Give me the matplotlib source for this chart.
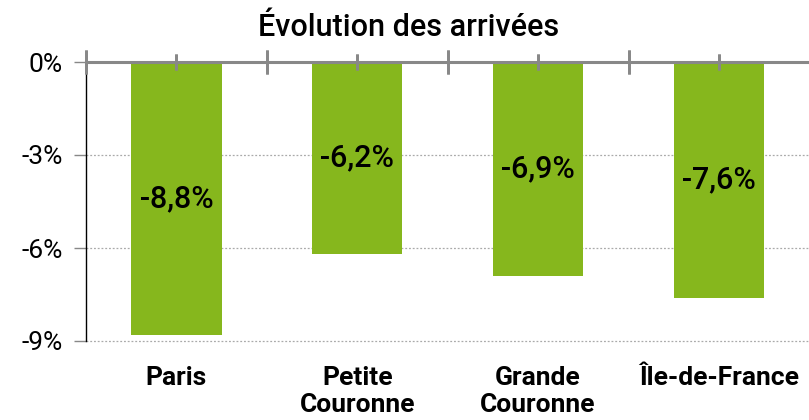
import numpy as np
import matplotlib.pyplot as plt

categories = ["Paris", "Petite\nCouronne", "Grande\nCouronne", "Île-de-France"]
values = [-8.8, -6.2, -6.9, -7.6]
bar_labels = ["-8,8%", "-6,2%", "-6,9%", "-7,6%"]
yticks = [0, -3, -6, -9]
ytick_labels = ["0%", "-3%", "-6%", "-9%"]

plt.rcParams['font.family'] = ['Roboto', 'DejaVu Sans']

fig = plt.figure(figsize=(8.09, 4.2), dpi=100)
ax = fig.add_axes([86/809, (420-341)/420, (813-86)/809, (341-62)/420])

x = np.arange(len(categories))
ax.bar(x, values, width=0.5, color="#86b71d", zorder=2)

for xi, v, lab in zip(x, values, bar_labels):
    ax.text(xi, v/2, lab, ha="center", va="center", fontsize=22, fontweight="medium",
            color="black", zorder=3)

ax.set_xlim(-0.5, 3.52)
ax.set_ylim(-9, 0)

# zero line with ticks
ax.axhline(0, color="#888888", lw=2.2, zorder=4, clip_on=False)
for b in np.arange(-0.5, 3.5, 1.0):
    ax.plot([b, b], [0, 0], marker="|", markersize=17, markeredgewidth=2, color="#888888", zorder=4, clip_on=False)
for xi in x:
    ax.plot([xi, xi], [0, 0], marker="|", markersize=12, markeredgewidth=2, color="#888888", zorder=4, clip_on=False)

# grid
for t in yticks[1:]:
    ax.axhline(t, color="#aaaaaa", lw=0.9, ls=(0, (1.5, 1.5)), zorder=1, clip_on=False)

ax.set_yticks(yticks)
ax.set_yticklabels(ytick_labels, fontsize=19)
ax.tick_params(axis="y", length=9, color="#888888", width=1, pad=8)
ax.set_xticks(x)
ax.set_xticklabels(categories, fontsize=19, fontweight="bold", linespacing=1.15)
ax.tick_params(axis="x", length=0, pad=18)

for s in ["top", "right", "bottom"]:
    ax.spines[s].set_visible(False)
ax.spines["left"].set_color("black")
ax.spines["left"].set_linewidth(1)

fig.text(409/809, 1 - 27/420, "Évolution des arrivées", ha="center", va="center",
         fontsize=22, fontweight="medium")

fig.savefig("out.png", dpi=100)
